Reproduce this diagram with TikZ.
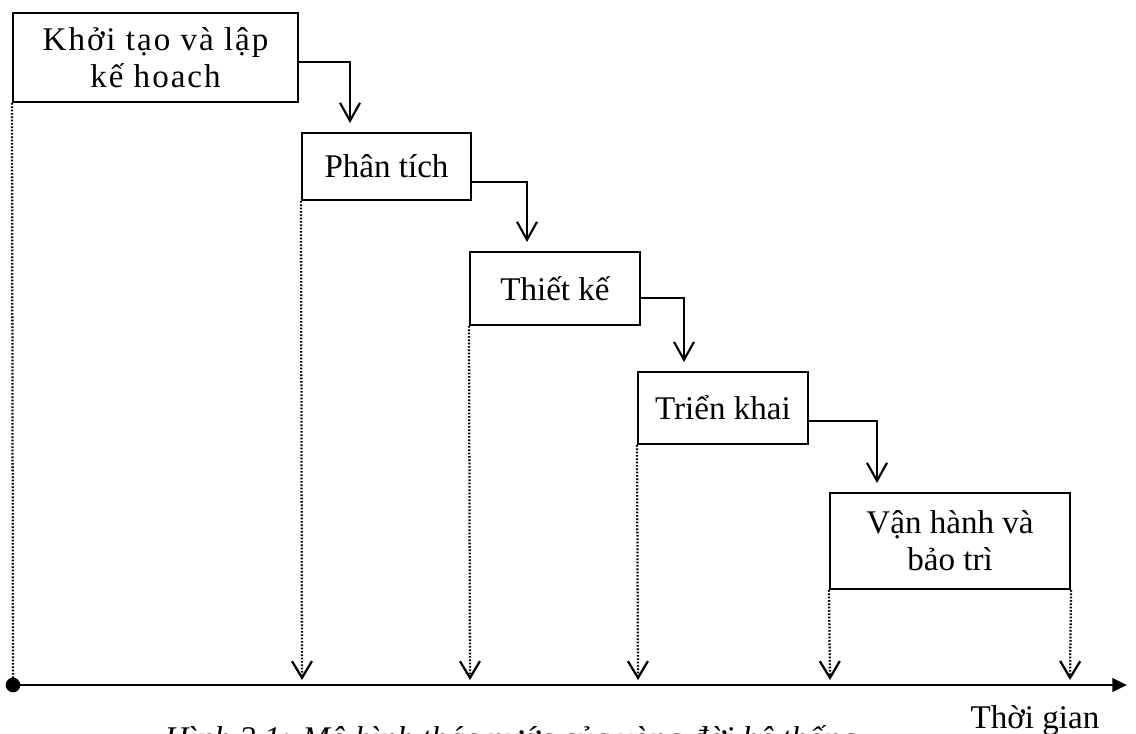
\documentclass[tikz,border=0pt]{standalone}
\usepackage{fontspec}
\setmainfont{Liberation Serif}
\newfontfamily\spacedserif[LetterSpace=6]{Liberation Serif}
\usetikzlibrary{arrows.meta}
\begin{document}
\begin{tikzpicture}[x=0.75pt,y=-0.75pt,
  phase/.style={draw,line width=1.5pt,inner sep=0pt,align=center,
    font=\fontsize{24.8}{27.8}\selectfont},
  flow/.style={line width=1.6pt,-{Straight Barb[length=13.5pt,width=15pt,line width=1.6pt]}},
  guide/.style={line width=1.7pt,dash pattern=on 1.3pt off 1.2pt,
    -{Straight Barb[length=12.5pt,width=15pt,line width=1.7pt]}},
  guideplain/.style={line width=1.7pt,dash pattern=on 1.3pt off 1.2pt},
  timeline/.style={line width=2.2pt,-{Triangle[length=11pt,width=10pt]}}]
\useasboundingbox (0,0) rectangle (1136,733);

% phases of the waterfall
\node[phase,minimum width=213.75pt,minimum height=66.75pt,font=\fontsize{24.8}{27.8}\spacedserif]
  (b1) at (155.5,57.5) {Khởi tạo và lập\\kế hoach};
\node[phase,minimum width=126.75pt,minimum height=50.25pt] (b2) at (386.5,166.5) {Phân tích};
\node[phase,minimum width=127.5pt,minimum height=54.75pt] (b3) at (555,288.5) {Thiết kế};
\node[phase,minimum width=127.5pt,minimum height=54pt] (b4) at (723,408) {Triển khai};
\node[phase,minimum width=180pt,minimum height=72pt] (b5) at (950,541) {Vận hành và\\bảo trì};

% hand-over points between phases
\coordinate (s1) at (298,62);  \coordinate (e1) at (350,123);
\coordinate (s2) at (471,182); \coordinate (e2) at (527,242);
\coordinate (s3) at (640,298); \coordinate (e3) at (684,362);
\coordinate (s4) at (808,421); \coordinate (e4) at (877,483);
\draw[flow] (s1) -| (e1);
\draw[flow] (s2) -| (e2);
\draw[flow] (s3) -| (e3);
\draw[flow] (s4) -| (e4);

% time axis
\node[circle,fill,inner sep=0pt,minimum size=11pt] (o) at (13,685) {};
\coordinate (tend) at (1127,685);
\draw[timeline] (o.center) -- (tend);
\node[anchor=base west,font=\fontsize{24.8}{27.8}\selectfont] (tlabel) at (966,728) {Thời gian};

% projections of each phase onto the axis
\coordinate (t1) at (302,680);
\coordinate (t2) at (470,680);
\coordinate (t3) at (638,680);
\coordinate (t4) at (830,680);
\coordinate (t5) at (1070,680);
\draw[guideplain] (b1.south west) -- (o.center);
\draw[guide] (b2.south west) -- (t1);
\draw[guide] (b3.south west) -- (t2);
\draw[guide] (b4.south west) -- (t3);
\draw[guide] (b5.south west) -- (t4);
\draw[guide] (b5.south east) -- (t5);

% figure caption, running below the page edge
\node[anchor=base west,font=\fontsize{24.8}{27.8}\itshape] (cap) at (160,749)
  {Hình 2.1: Mô hình thác nước của vòng đời hệ thống};
\end{tikzpicture}
\end{document}
